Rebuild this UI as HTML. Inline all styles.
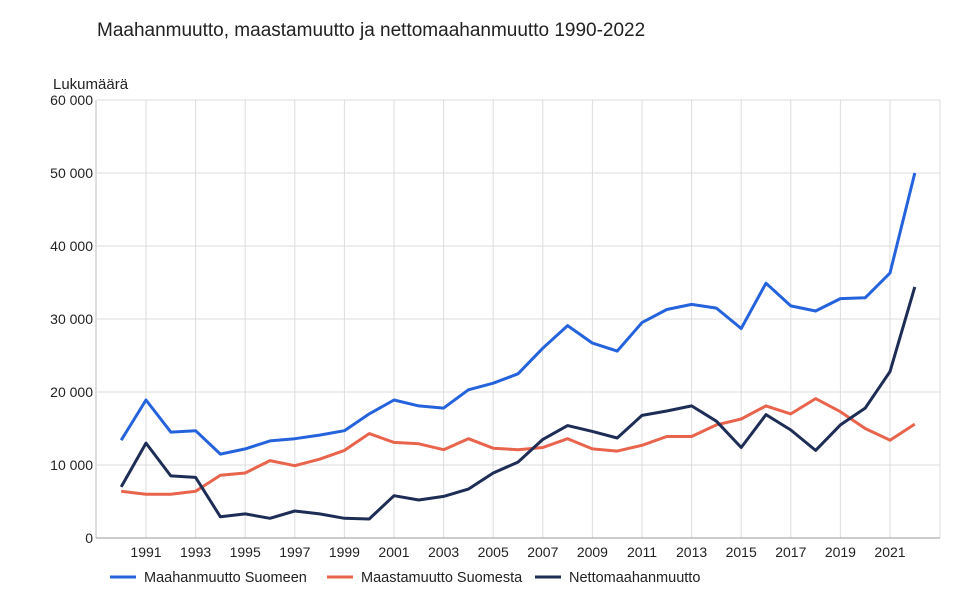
<!DOCTYPE html>
<html><head><meta charset="utf-8"><style>
body{margin:0;background:#fff;font-family:"Liberation Sans",Arial,sans-serif}
</style></head><body>
<svg id="s" width="973" height="597" xmlns="http://www.w3.org/2000/svg" font-family="Liberation Sans, Arial, sans-serif">
<rect width="973" height="597" fill="#fff"/>
<text x="97" y="36" font-size="19" fill="#222">Maahanmuutto, maastamuutto ja nettomaahanmuutto 1990-2022</text>
<text x="53" y="89" font-size="15" fill="#222">Lukumäärä</text>
<g id="g"></g>
</svg>
<script>
var g=document.getElementById('g'),h='';
function X(y){return 121.2+(y-1990)*24.8}
function Y(v){return 538-v*7.3}
for(var i=1;i<=6;i++){var y=Y(i*10);h+='<line x1="97" x2="940" y1="'+y+'" y2="'+y+'" stroke="#ddd"/>';}
for(var i=0;i<=6;i++){h+='<text x="93" y="'+(Y(i*10)+5)+'" font-size="14" text-anchor="end" fill="#222">'+(i?i*10+' 000':'0')+'</text>';}
for(var yr=1991;yr<=2021;yr+=2){var x=X(yr);h+='<line x1="'+x+'" x2="'+x+'" y1="100" y2="538" stroke="#ddd"/><text x="'+x+'" y="557" font-size="14" text-anchor="middle" fill="#222">'+yr+'</text>';}
h+='<line x1="940" x2="940" y1="100" y2="538" stroke="#ddd"/>';
h+='<line x1="96" x2="96" y1="100" y2="538" stroke="#bbb"/><line x1="96" x2="940" y1="538" y2="538" stroke="#999"/>';
var B=[13.4,18.9,14.5,14.7,11.5,12.2,13.3,13.6,14.1,14.7,17,18.9,18.1,17.8,20.3,21.2,22.5,26,29.1,26.7,25.6,29.5,31.3,32,31.5,28.7,34.9,31.8,31.1,32.8,32.9,36.3,50];
var R=[6.4,6.0,6.0,6.4,8.6,8.9,10.6,9.9,10.8,12.0,14.3,13.1,12.9,12.1,13.6,12.3,12.1,12.4,13.6,12.2,11.9,12.7,13.9,13.9,15.5,16.3,18.1,17,19.1,17.3,15,13.4,15.6];
var N=[7.0,13,8.5,8.3,2.9,3.3,2.7,3.7,3.3,2.7,2.6,5.8,5.2,5.7,6.7,8.9,10.4,13.5,15.4,14.6,13.7,16.8,17.4,18.1,16,12.4,16.9,14.8,12,15.5,17.8,22.8,34.4];
function P(d,c){return '<polyline fill="none" stroke="'+c+'" stroke-width="3" stroke-linejoin="round" points="'+d.map(function(v,i){return X(1990+i).toFixed(1)+','+Y(v).toFixed(1)}).join(' ')+'"/>';}
h+=P(B,'#2563dc')+P(R,'#e8644c')+P(N,'#1e2d55');
var L=[[110,'#2563dc','Maahanmuutto Suomeen'],[327,'#e8644c','Maastamuutto Suomesta'],[535,'#1e2d55','Nettomaahanmuutto']];
L.forEach(function(l){h+='<line x1="'+l[0]+'" x2="'+(l[0]+26)+'" y1="577" y2="577" stroke="'+l[1]+'" stroke-width="3"/><text x="'+(l[0]+34)+'" y="582" font-size="14.5" fill="#222">'+l[2]+'</text>';});
g.innerHTML=h;
</script>
</body></html>
